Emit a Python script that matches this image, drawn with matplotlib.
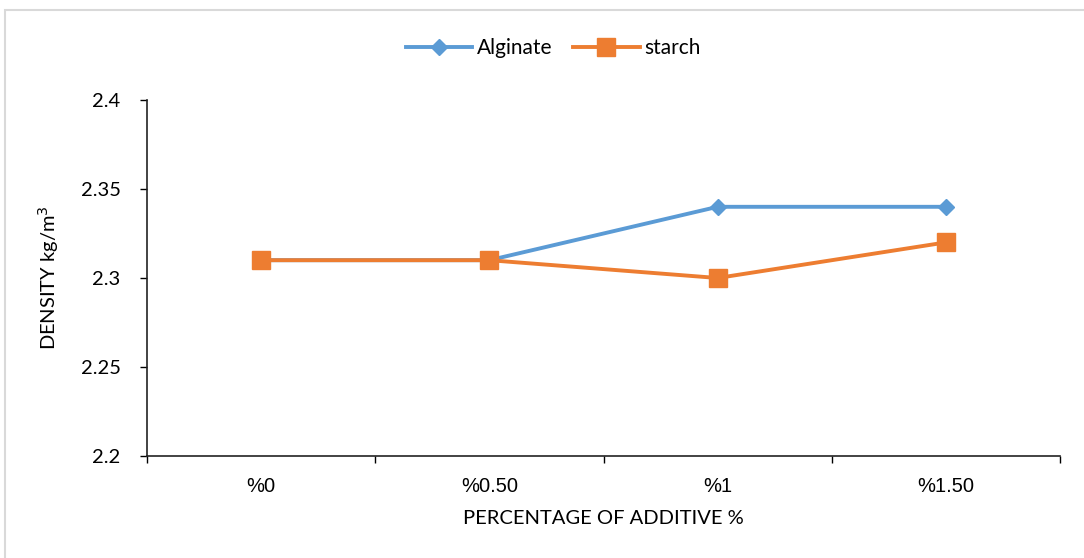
import matplotlib.pyplot as plt
from matplotlib.patches import Rectangle

categories = ['%0', '%0.50', '%1', '%1.50']
alginate = [2.31, 2.31, 2.34, 2.34]
starch = [2.31, 2.31, 2.30, 2.32]

plt.rcParams['font.family'] = ['Lato', 'DejaVu Sans']

fig = plt.figure(figsize=(10.84, 5.58), dpi=100)
ax = fig.add_axes([147 / 1084, 102 / 558, (1060 - 147) / 1084, (456 - 100) / 558])

x = range(len(categories))
ax.plot(x, alginate, color='#5B9BD5', linewidth=2.8, marker='D', markersize=8.3, label='Alginate')
ax.plot(x, starch, color='#ED7D31', linewidth=2.8, marker='s', markersize=12.5, label='starch')

ax.set_xlim(-0.5, 3.5)
ax.set_ylim(2.2, 2.4)
ax.set_yticks([2.2, 2.25, 2.3, 2.35, 2.4])
ax.set_yticklabels(['2.2', '2.25', '2.3', '2.35', '2.4'])
ax.set_xticks(list(x))
ax.set_xticklabels(categories, fontfamily='Liberation Sans')
ax.set_xticks([-0.5, 0.5, 1.5, 2.5, 3.5], minor=True)
ax.tick_params(axis='x', which='major', length=0, pad=15, labelsize=14.5)
ax.tick_params(axis='x', which='minor', length=5, width=1, direction='out')
ax.tick_params(axis='y', length=5, width=1, direction='out', labelsize=14.5, pad=14)

for s in ['top', 'right']:
    ax.spines[s].set_visible(False)
for s in ['left', 'bottom']:
    ax.spines[s].set_linewidth(1.2)
    ax.spines[s].set_color('#222222')

ax.set_xlabel('PERCENTAGE OF ADDITIVE %', fontsize=14.5, labelpad=10)
ax.set_ylabel('DENSITY kg/m$^3$', fontsize=14.5, labelpad=14)

ax.legend(loc='center', bbox_to_anchor=(553 / 1084, 1 - 48 / 558), bbox_transform=fig.transFigure,
          ncol=2, frameon=False, fontsize=15, handlelength=3.2, columnspacing=1.0, handletextpad=0.2)

fig.patches.append(Rectangle((5 / 1084, -0.1), 1.2, (558 - 10) / 558 + 0.1, transform=fig.transFigure,
                             fill=False, edgecolor='#d9d9d9', linewidth=1.5))

fig.savefig('out.png', dpi=100)
